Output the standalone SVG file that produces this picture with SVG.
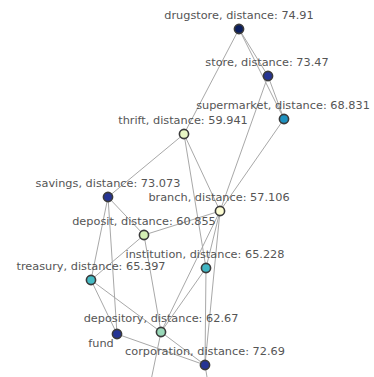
<svg xmlns="http://www.w3.org/2000/svg" width="374" height="377" viewBox="0 0 374 377">
<style>
.edge{stroke:#a8a8a8;stroke-width:1;fill:none}
.node circle{stroke:#3a3a3a;stroke-width:1.6}
.lbl{font-family:"DejaVu Sans",Verdana,sans-serif;font-size:11.3px;fill:#555;text-anchor:middle}
</style>
<rect width="374" height="377" fill="#fff"/>
<g id="connectors">
<line class="edge" x1="239" y1="29" x2="184" y2="134"/>
<line class="edge" x1="239" y1="29" x2="268" y2="76"/>
<line class="edge" x1="239" y1="29" x2="284" y2="119"/>
<line class="edge" x1="268" y1="76" x2="284" y2="119"/>
<line class="edge" x1="268" y1="76" x2="220" y2="211"/>
<line class="edge" x1="284" y1="119" x2="220" y2="211"/>
<line class="edge" x1="184" y1="134" x2="108" y2="197"/>
<line class="edge" x1="184" y1="134" x2="220" y2="211"/>
<line class="edge" x1="184" y1="134" x2="206" y2="268"/>
<line class="edge" x1="108" y1="197" x2="144" y2="235"/>
<line class="edge" x1="108" y1="197" x2="91" y2="280"/>
<line class="edge" x1="108" y1="197" x2="117" y2="334"/>
<line class="edge" x1="144" y1="235" x2="220" y2="211"/>
<line class="edge" x1="144" y1="235" x2="91" y2="280"/>
<line class="edge" x1="144" y1="235" x2="161" y2="332"/>
<line class="edge" x1="220" y1="211" x2="206" y2="268"/>
<line class="edge" x1="220" y1="211" x2="161" y2="332"/>
<line class="edge" x1="220" y1="211" x2="205" y2="365"/>
<line class="edge" x1="206" y1="268" x2="161" y2="332"/>
<line class="edge" x1="206" y1="268" x2="205" y2="365"/>
<line class="edge" x1="91" y1="280" x2="117" y2="334"/>
<line class="edge" x1="91" y1="280" x2="161" y2="332"/>
<line class="edge" x1="161" y1="332" x2="205" y2="365"/>
<line class="edge" x1="117" y1="334" x2="205" y2="365"/>
<line class="edge" x1="161" y1="332" x2="148" y2="395"/>
<line class="edge" x1="205" y1="365" x2="210" y2="395"/>
</g>
<g id="drugstore" class="node"><circle cx="239" cy="29" r="4.6" fill="#0b1f5e"/><text class="lbl" x="239" y="19">drugstore, distance: 74.91</text></g>
<g id="store" class="node"><circle cx="268" cy="76" r="4.6" fill="#253494"/><text class="lbl" x="267" y="66">store, distance: 73.47</text></g>
<g id="supermarket" class="node"><circle cx="284" cy="119" r="4.6" fill="#1d91c0"/><text class="lbl" x="283" y="109">supermarket, distance: 68.831</text></g>
<g id="thrift" class="node"><circle cx="184" cy="134" r="4.6" fill="#e8f6c4"/><text class="lbl" x="183" y="124">thrift, distance: 59.941</text></g>
<g id="savings" class="node"><circle cx="108" cy="197" r="4.6" fill="#253494"/><text class="lbl" x="108" y="187">savings, distance: 73.073</text></g>
<g id="branch" class="node"><circle cx="220" cy="211" r="4.6" fill="#fdfdd2"/><text class="lbl" x="219" y="201">branch, distance: 57.106</text></g>
<g id="deposit" class="node"><circle cx="144" cy="235" r="4.6" fill="#d4eeb4"/><text class="lbl" x="144" y="225">deposit, distance: 60.855</text></g>
<g id="institution" class="node"><circle cx="206" cy="268" r="4.6" fill="#41b6c4"/><text class="lbl" x="205" y="258">institution, distance: 65.228</text></g>
<g id="treasury" class="node"><circle cx="91" cy="280" r="4.6" fill="#45bbc4"/><text class="lbl" x="91" y="270">treasury, distance: 65.397</text></g>
<g id="depository" class="node"><circle cx="161" cy="332" r="4.6" fill="#99d8b8"/><text class="lbl" x="161" y="322">depository, distance: 62.67</text></g>
<g id="fund" class="node"><circle cx="117" cy="334" r="4.6" fill="#253494"/><text class="lbl" x="101" y="347">fund</text></g>
<g id="corporation" class="node"><circle cx="205" cy="365" r="4.6" fill="#253494"/><text class="lbl" x="205" y="355">corporation, distance: 72.69</text></g>
</svg>
